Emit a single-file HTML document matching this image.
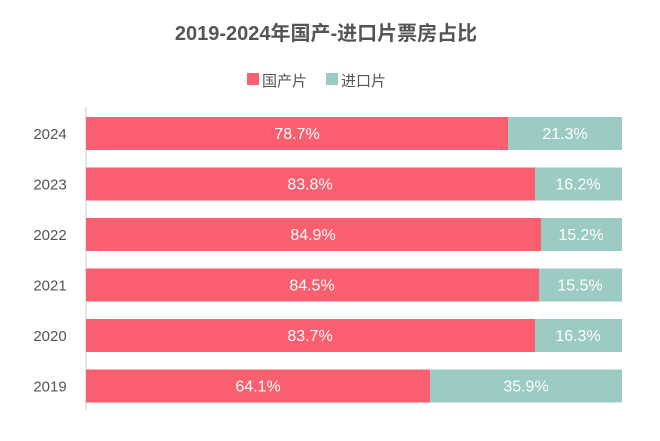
<!DOCTYPE html>
<html><head><meta charset="utf-8"><style>
body{margin:0;background:#fff;width:660px;height:436px;overflow:hidden}
</style></head><body>
<svg width="660" height="436" xmlns="http://www.w3.org/2000/svg" font-family="Liberation Sans, Noto Sans CJK SC, sans-serif">
<text x="326" y="40" text-anchor="middle" font-size="20" font-weight="bold" fill="#555">2019-2024年国产-进口片票房占比</text>
<rect x="247" y="73" width="12" height="12" fill="#F95F6E"/>
<text x="262" y="86" font-size="15" fill="#555">国产片</text>
<rect x="326" y="73" width="12" height="12" fill="#9BCBC3"/>
<text x="341" y="86" font-size="15" fill="#555">进口片</text>
<line x1="86" y1="107" x2="86" y2="410" stroke="#ccc" stroke-width="1"/>
<g font-size="16" fill="#fff" text-anchor="middle">
<g transform="translate(0,117)"><rect x="86" width="422" height="33" fill="#F95F6E"/><rect x="508" width="114" height="33" fill="#9BCBC3"/><text x="297" y="22">78.7%</text><text x="565" y="22">21.3%</text><text x="50" y="22" fill="#555" font-size="15">2024</text></g>
<g transform="translate(0,167.5)"><rect x="86" width="449" height="33" fill="#F95F6E"/><rect x="535" width="87" height="33" fill="#9BCBC3"/><text x="310" y="22">83.8%</text><text x="578" y="22">16.2%</text><text x="50" y="22" fill="#555" font-size="15">2023</text></g>
<g transform="translate(0,218)"><rect x="86" width="455" height="33" fill="#F95F6E"/><rect x="541" width="81" height="33" fill="#9BCBC3"/><text x="313" y="22">84.9%</text><text x="581" y="22">15.2%</text><text x="50" y="22" fill="#555" font-size="15">2022</text></g>
<g transform="translate(0,268.5)"><rect x="86" width="453" height="33" fill="#F95F6E"/><rect x="539" width="83" height="33" fill="#9BCBC3"/><text x="312" y="22">84.5%</text><text x="580" y="22">15.5%</text><text x="50" y="22" fill="#555" font-size="15">2021</text></g>
<g transform="translate(0,319)"><rect x="86" width="449" height="33" fill="#F95F6E"/><rect x="535" width="87" height="33" fill="#9BCBC3"/><text x="310" y="22">83.7%</text><text x="578" y="22">16.3%</text><text x="50" y="22" fill="#555" font-size="15">2020</text></g>
<g transform="translate(0,369.5)"><rect x="86" width="344" height="33" fill="#F95F6E"/><rect x="430" width="192" height="33" fill="#9BCBC3"/><text x="258" y="22">64.1%</text><text x="526" y="22">35.9%</text><text x="50" y="22" fill="#555" font-size="15">2019</text></g>
</g>
</svg>
</body></html>
